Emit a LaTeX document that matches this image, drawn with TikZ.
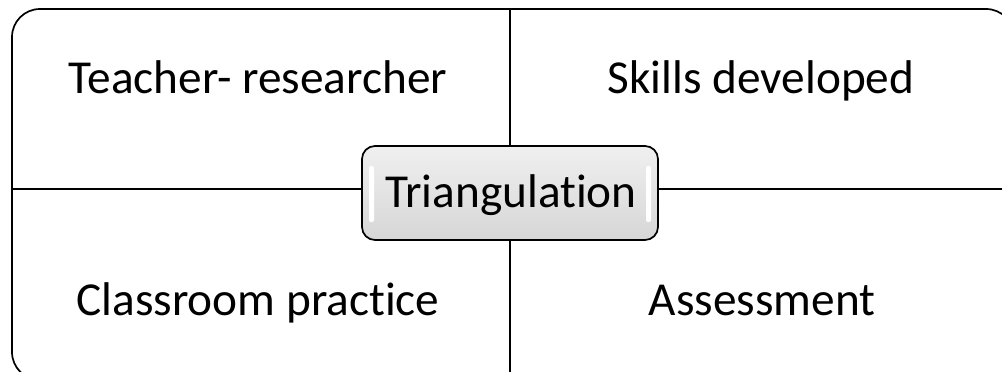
\documentclass[tikz,border=0pt]{standalone}
\usepackage{fontspec}
\setmainfont[Ligatures={NoCommon,NoRare}]{Carlito}
\usetikzlibrary{positioning}

\begin{document}
\begin{tikzpicture}[x=1pt, y=-1pt, line width=1.7pt,
    label/.style={font=\fontsize{47.3}{56}\selectfont, inner sep=0pt, anchor=base},
    hub/.style={draw, rounded corners=13pt, minimum width=296pt, minimum height=94pt,
        top color=gray!12, bottom color=gray!32}]
    \useasboundingbox (0, 0) rectangle (1002, 372);
    \clip (0, 0) rectangle (1002, 372);

    \draw[rounded corners=28pt] (12, 9) rectangle (1014, 380);

    \node[hub] (tri) at (510, 193) {};
    \fill[white, rounded corners=2pt] (369, 166) rectangle (374, 222);
    \fill[white, rounded corners=2pt] (646, 166) rectangle (651, 222);
    \node[label] (tril) at (511, 207) {Triangulation};

    \coordinate (top) at (510, 9);
    \coordinate (bot) at (510, 380);
    \coordinate (lft) at (12, 189);
    \coordinate (rgt) at (1014, 189);
    \draw (top) -- (tri.north);
    \draw (tri.south) -- (bot);
    \draw (lft) -- (lft -| tri.west);
    \draw (rgt -| tri.east) -- (rgt);

    \node[label] (teach) at (258, 93) {Teacher- researcher};
    \node[label] (skill) at (761, 93) {Skills developed};
    \node[label] (class) at (258, 315) {Classroom practice};
    \node[label] (assess) at (762, 315) {Assessment};
\end{tikzpicture}
\end{document}
